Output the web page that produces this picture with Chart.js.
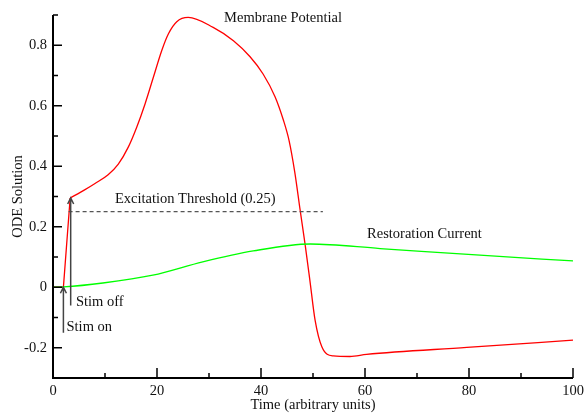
<!DOCTYPE html>
<html>
<head>
<meta charset="utf-8">
<script src="https://cdn.jsdelivr.net/npm/chart.js@4"></script>
<style>
  html, body { margin: 0; padding: 0; background: #fff; }
  #wrap { width: 584px; height: 419px; }
</style>
</head>
<body>
<div id="wrap"><canvas id="chart" width="584" height="419"></canvas></div>
<script>
// values
const stimRamp = [[0, 0], [2, 0], [3.3, 0.295]];
const membranePotential = [
  [3.3, 0.295], [6, 0.321], [8.08, 0.343], [10.6, 0.372], [12.56, 0.407],
  [14.5, 0.464], [16.1, 0.529], [17.7, 0.606], [19.3, 0.694], [20.9, 0.782],
  [22.2, 0.838], [23.8, 0.878], [26, 0.892], [30.8, 0.859], [34.7, 0.815],
  [37.9, 0.762], [40.4, 0.705], [42.7, 0.63], [44.3, 0.553], [45.4, 0.485],
  [46.5, 0.38], [47.5, 0.258], [48.5, 0.139], [49.4, 0.023], [50.4, -0.109],
  [51.7, -0.197], [53.9, -0.227], [57.1, -0.229], [60.3, -0.222], [79.6, -0.199],
  [100, -0.175]
];
const restorationCurrent = [
  [0, 0], [2, 0.001], [9.6, 0.014], [19.2, 0.04], [28.8, 0.084],
  [38.5, 0.12], [49.5, 0.143], [62.9, 0.128], [82.1, 0.106], [100, 0.087]
];
const threshold = [[3.0, 0.25], [51.9, 0.25]];
const xMajorTicks = [0, 20, 40, 60, 80, 100];
const xMinorTicks = [10, 30, 50, 70, 90];
const yMajorTicks = [-0.2, 0, 0.2, 0.4, 0.6, 0.8];
const yMinorTicks = [-0.1, 0.1, 0.3, 0.5, 0.7, 0.9];

// annotations: [text, x, y]
const labels = [
  ['Membrane Potential', 32.9, 0.891],
  ['Excitation Threshold (0.25)', 11.9, 0.29],
  ['Restoration Current', 60.4, 0.175],
  ['Stim off', 4.4, -0.05],
  ['Stim on', 2.6, -0.132]
];
// arrows: [x, yFrom, yTo]
const arrows = [
  [2.0, -0.15, 0],
  [3.4, -0.06, 0.295]
];

const FONT = '"Liberation Serif", "Times New Roman", serif';
const FSIZE = 14.5;
const toXY = arr => arr.map(p => ({ x: p[0], y: p[1] }));

const axesPlugin = {
  id: 'axesPlugin',
  afterDraw(chart) {
    const ctx = chart.ctx;
    const xs = chart.scales.x, ys = chart.scales.y;
    const a = chart.chartArea;
    ctx.save();
    ctx.strokeStyle = '#000';
    ctx.lineWidth = 2;
    ctx.beginPath();
    ctx.moveTo(a.left, a.top);
    ctx.lineTo(a.left, a.bottom);
    ctx.lineTo(a.right, a.bottom);
    ctx.stroke();

    ctx.lineWidth = 1.5;
    ctx.beginPath();
    yMajorTicks.forEach(v => { const p = ys.getPixelForValue(v); ctx.moveTo(a.left, p); ctx.lineTo(a.left + 9, p); });
    yMinorTicks.forEach(v => { const p = ys.getPixelForValue(v); ctx.moveTo(a.left, p); ctx.lineTo(a.left + 5, p); });
    xMajorTicks.forEach(v => { const p = xs.getPixelForValue(v); ctx.moveTo(p, a.bottom); ctx.lineTo(p, a.bottom - 10); });
    xMinorTicks.forEach(v => { const p = xs.getPixelForValue(v); ctx.moveTo(p, a.bottom); ctx.lineTo(p, a.bottom - 5); });
    ctx.stroke();

    // stimulus arrows
    ctx.strokeStyle = '#444';
    ctx.lineWidth = 1.5;
    arrows.forEach(([x, y0, y1]) => {
      const px = xs.getPixelForValue(x);
      const p0 = ys.getPixelForValue(y0), p1 = ys.getPixelForValue(y1);
      ctx.beginPath();
      ctx.moveTo(px, p0);
      ctx.lineTo(px, p1);
      ctx.moveTo(px - 3, p1 + 6);
      ctx.lineTo(px, p1);
      ctx.lineTo(px + 3, p1 + 6);
      ctx.stroke();
    });

    ctx.fillStyle = '#111';
    ctx.font = FSIZE + 'px ' + FONT;
    ctx.textAlign = 'left';
    ctx.textBaseline = 'middle';
    labels.forEach(([t, x, y]) => {
      ctx.fillText(t, xs.getPixelForValue(x), ys.getPixelForValue(y));
    });
    ctx.restore();
  }
};

const ctx = document.getElementById('chart').getContext('2d');
const chart = new Chart(ctx, {
  type: 'line',
  data: {
    datasets: [
      {
        data: toXY(threshold),
        borderColor: '#555',
        borderWidth: 1.3,
        borderDash: [4, 3],
        tension: 0,
        pointRadius: 0
      },
      {
        data: toXY(restorationCurrent),
        borderColor: '#00ff00',
        borderWidth: 1.3,
        cubicInterpolationMode: 'monotone',
        pointRadius: 0
      },
      {
        data: toXY(stimRamp),
        borderColor: '#ff0000',
        borderWidth: 1.3,
        tension: 0,
        pointRadius: 0
      },
      {
        data: toXY(membranePotential),
        borderColor: '#ff0000',
        borderWidth: 1.3,
        cubicInterpolationMode: 'monotone',
        pointRadius: 0
      }
    ]
  },
  options: {
    responsive: false,
    animation: false,
    events: [],
    layout: { padding: { top: 15, right: 11, left: 0, bottom: 0 } },
    plugins: { legend: { display: false }, tooltip: { enabled: false } },
    scales: {
      x: {
        type: 'linear',
        min: 0,
        max: 100,
        afterFit: s => { s.height = 41; s.paddingLeft = 0; s.paddingRight = 0; },
        afterBuildTicks: s => { s.ticks = xMajorTicks.map(v => ({ value: v })); },
        grid: { display: false, drawTicks: false },
        border: { display: false },
        ticks: { padding: 4, color: '#111', font: { family: FONT, size: FSIZE }, maxRotation: 0 },
        title: {
          display: true,
          text: 'Time (arbitrary units)',
          color: '#111',
          font: { family: FONT, size: FSIZE },
          padding: { top: 0, bottom: 5 }
        }
      },
      y: {
        type: 'linear',
        min: -0.3,
        max: 0.9,
        afterFit: s => { s.width = 53; s.paddingTop = 0; s.paddingBottom = 0; },
        afterBuildTicks: s => { s.ticks = yMajorTicks.map(v => ({ value: v })); },
        grid: { display: false, drawTicks: false },
        border: { display: false },
        ticks: {
          padding: 6,
          color: '#111',
          font: { family: FONT, size: FSIZE },
          callback: v => String(Math.round(v * 10) / 10)
        },
        title: {
          display: true,
          text: 'ODE Solution',
          color: '#111',
          font: { family: FONT, size: FSIZE },
          padding: { top: 9, bottom: 0 }
        }
      }
    }
  },
  plugins: [axesPlugin]
});
</script>
</body>
</html>
